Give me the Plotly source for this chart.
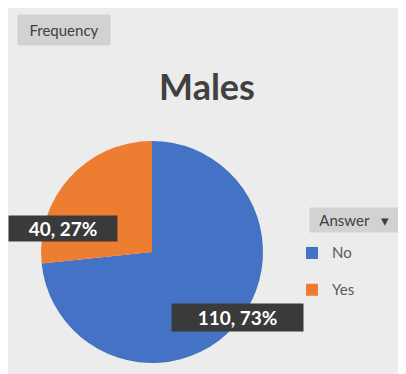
import plotly.graph_objects as go

answers = ["No", "Yes"]
counts = [110, 40]
colors = ["#4472C4", "#ED7D31"]

# the page body adds an 8px margin, so the figure is sized to fit the window
W, H = 398, 366
OFF = 8


def px(x):
    return (x - OFF) / W


def py(y):
    return 1 - (y - OFF) / H


total = sum(counts)
pct = [round(c / total * 100) for c in counts]

fig = go.Figure(go.Pie(
    # second (blank) line only widens the gap between legend rows
    labels=[f"<span style='font-size:15px'>{a}</span><br> " for a in answers],
    customdata=answers,
    values=counts,
    sort=False,
    direction="clockwise",
    rotation=0,
    marker=dict(colors=colors, line=dict(width=0)),
    textinfo="none",
    hovertemplate="%{customdata}: %{value} (%{percent})<extra></extra>",
    domain=dict(x=[px(41), px(263)], y=[py(363), py(141)]),
))

# dark data-label boxes
label_box = {"Yes": (63, 228, 104, 21), "No": (238, 317, 127, 23)}
for a, c, p in zip(answers, counts, pct):
    x, y, w, h = label_box[a]
    fig.add_annotation(x=px(x), y=py(y), xref="paper", yref="paper", showarrow=False,
                       xanchor="center", yanchor="middle",
                       text=f"<b>{c}, {p}%</b>", bgcolor="#3a3a3a",
                       width=w, height=h, borderpad=2,
                       font=dict(color="white", size=19, family="Lato"))

# pivot-chart field buttons
fig.add_annotation(x=px(64), y=py(30), xref="paper", yref="paper", showarrow=False,
                   xanchor="center", yanchor="middle",
                   text="Frequency", bgcolor="#d2d2d2", width=86, height=24, borderpad=3,
                   font=dict(size=15, color="#404040", family="Lato"))
fig.add_annotation(x=px(354), y=py(220), xref="paper", yref="paper", showarrow=False,
                   xanchor="center", yanchor="middle",
                   text="Answer   \u25BE", bgcolor="#d2d2d2", width=84, height=20, borderpad=2,
                   font=dict(size=15, color="#404040", family="Lato"))

fig.update_layout(
    width=W, height=H,
    margin=dict(l=0, r=0, t=0, b=0),
    paper_bgcolor="#ececec",
    title=dict(text="<b>Males</b>", x=px(207), xanchor="center", y=py(87), yanchor="middle",
               font=dict(size=36, color="#404040", family="Lato")),
    legend=dict(x=px(292), y=py(238), xanchor="left", yanchor="top", valign="top",
                font=dict(size=13, color="#595959", family="Lato"),
                bgcolor="rgba(0,0,0,0)", itemwidth=30),
    font=dict(family="Lato"),
)

fig.write_html("out.html")
